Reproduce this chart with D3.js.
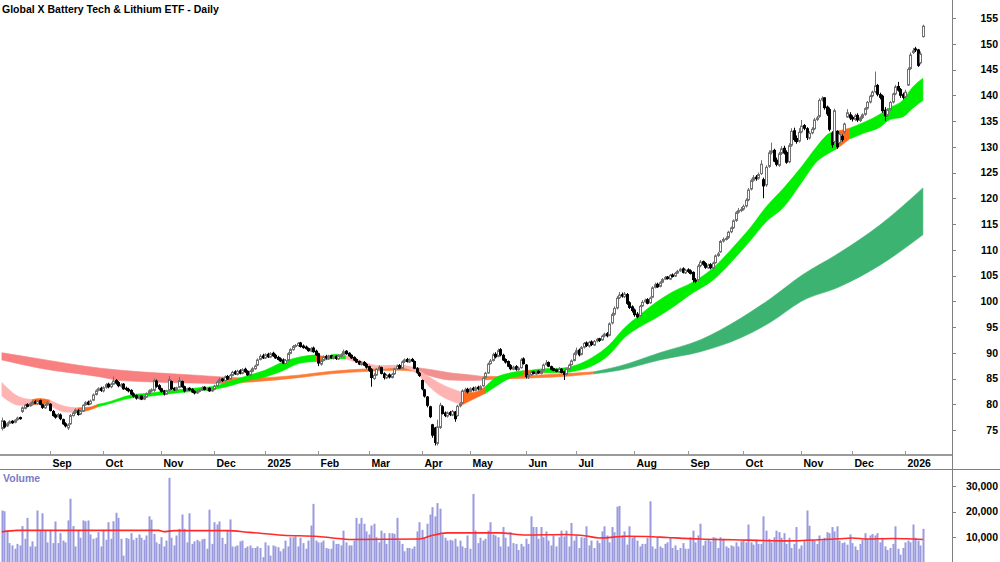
<!DOCTYPE html>
<html><head><meta charset="utf-8">
<script src="https://cdn.jsdelivr.net/npm/d3@7"></script>
<style>body{margin:0;background:#fff;} svg{display:block;font-family:"Liberation Sans",Arial,sans-serif;}</style>
</head><body><svg id="c" width="1000" height="562"></svg>
<script>
const title = "Global X Battery Tech & Lithium ETF - Daily";
const startDate = "2024-08-06";
const holidays = ["2024-12-25","2024-12-26","2025-01-01","2025-01-27","2025-04-18","2025-04-21","2025-04-25","2025-06-09","2025-12-25","2025-12-26","2026-01-01"];

const opens = [
75.3,76.6,75.8,76.3,76.7,76.5,77.0,77.4,78.6,79.2,79.9,79.7,80.0,80.5,80.1,80.7,79.9,79.3,79.9,
80.0,78.6,77.9,77.6,77.9,77.0,76.2,75.4,76.2,77.8,78.4,78.7,78.1,78.7,79.9,80.4,80.1,80.8,81.9,82.7,83.1,
82.6,83.3,83.9,83.4,83.9,84.6,84.2,83.5,83.9,83.1,82.9,82.7,82.0,81.7,81.1,81.6,81.0,81.4,82.1,82.6,82.7,84.5,83.6,
83.0,82.6,82.0,82.7,84.4,83.1,82.8,83.3,84.4,83.4,82.7,83.1,82.9,82.5,82.2,82.5,82.8,83.3,82.8,83.1,82.6,
82.9,83.6,84.3,84.9,84.6,85.4,84.9,85.6,86.3,85.8,86.5,86.0,86.8,86.4,85.6,86.4,86.9,87.6,88.7,89.4,
89.0,89.7,89.2,89.9,89.5,89.1,88.8,88.6,87.9,88.5,89.9,90.6,91.3,91.4,91.9,91.3,91.1,90.8,90.3,90.9,90.3,
89.8,87.8,88.5,89.3,88.9,89.4,88.9,89.3,88.8,89.3,89.7,90.3,89.9,89.5,89.1,88.7,88.3,87.7,88.1,87.7,
87.3,86.7,85.0,85.7,86.8,87.1,85.9,85.1,85.7,85.2,85.9,86.9,87.5,87.0,88.3,88.7,88.2,88.7,88.3,86.9,86.0,
84.6,82.8,81.4,79.5,76.0,75.4,72.4,75.5,79.5,78.3,77.7,78.4,77.9,78.5,77.8,79.7,80.3,82.5,82.9,
82.5,83.1,82.7,83.3,82.9,83.6,85.2,86.1,87.9,88.5,89.7,89.3,90.6,89.5,88.7,88.3,87.5,86.8,87.3,86.7,87.1,88.8,
87.6,85.3,85.7,86.3,85.9,86.4,86.0,86.6,87.7,88.1,87.3,86.9,86.7,86.3,86.8,86.3,85.8,86.9,87.7,88.5,
89.9,90.5,89.7,91.1,91.9,91.3,92.1,91.5,92.3,92.7,92.5,93.3,93.7,93.4,95.8,97.5,98.7,100.7,101.3,100.9,101.3,99.7,98.9,
98.3,97.5,97.2,99.1,99.9,100.3,99.7,100.8,102.7,103.3,102.9,103.7,104.3,104.7,104.3,105.1,104.9,105.5,105.9,106.3,105.5,
106.1,105.9,105.6,104.1,104.2,106.9,107.7,107.3,106.5,107.1,106.4,107.5,108.9,109.6,111.7,112.1,112.4,113.5,114.3,115.7,117.3,117.7,
117.9,118.5,119.7,121.8,123.5,124.1,123.9,124.8,123.6,122.6,126.2,128.9,129.3,127.4,126.4,128.7,129.7,128.9,127.1,130.3,133.1,131.6,131.1,
132.9,134.1,133.5,131.7,132.7,133.5,135.3,135.9,139.1,139.5,137.7,137.2,132.6,131.0,133.0,130.8,132.0,132.8,135.8,136.2,
135.7,135.3,136.1,135.1,135.7,136.3,137.5,138.7,139.9,140.7,141.9,140.1,139.8,137.1,136.1,137.3,138.7,140.3,141.7,141.1,140.1,
139.7,142.0,145.2,148.3,149.0,148.8,146.3,151.4];
const highs = [
77.4,76.9,76.5,76.9,76.9,77.1,77.6,77.6,79.6,80.1,80.2,80.4,80.7,80.8,80.9,80.9,80.1,80.1,80.6,
80.2,78.9,78.2,78.3,78.2,77.2,76.5,76.3,78.1,78.6,79.2,79.0,78.9,80.0,80.6,80.7,80.9,82.1,82.9,83.3,83.4,
83.5,84.1,84.2,84.2,85.4,84.9,84.5,84.1,84.1,83.4,83.2,82.9,82.3,81.9,81.8,81.8,81.7,82.3,82.9,83.1,85.0,84.8,83.9,
83.2,82.8,82.8,85.5,84.6,83.3,83.4,85.3,84.6,83.6,83.2,83.3,83.1,82.7,82.7,83.0,83.5,83.5,83.2,83.3,83.0,
83.8,84.6,85.2,85.1,85.6,85.7,85.9,86.5,86.6,86.7,86.8,87.0,87.1,86.6,86.7,87.2,87.7,88.9,89.7,89.8,
89.9,90.0,90.1,90.2,89.8,89.4,89.1,88.9,88.8,90.1,90.9,91.5,91.7,92.1,92.1,91.6,91.4,91.0,91.1,91.2,90.6,
90.0,88.7,89.5,89.6,89.6,89.6,89.5,89.5,89.7,89.9,90.6,90.5,90.1,89.7,89.3,88.9,88.5,88.3,88.4,88.0,
87.5,87.0,86.0,87.0,87.6,87.3,86.2,85.9,86.0,86.1,87.1,87.7,87.8,88.5,88.9,89.0,88.9,89.0,88.5,87.2,86.3,
84.8,83.0,81.6,79.7,76.2,75.6,77.0,80.3,79.8,78.6,78.6,78.7,78.9,78.7,79.9,80.4,82.9,83.2,83.2,
83.3,83.4,83.5,83.6,83.7,85.3,86.3,88.1,88.8,90.0,90.1,90.8,90.9,89.8,88.9,88.5,87.8,87.5,87.6,87.3,89.0,89.1,
87.8,85.9,86.4,86.5,86.5,86.6,86.8,87.9,88.6,88.3,87.5,87.1,86.9,87.2,87.0,86.5,87.1,87.9,88.7,90.1,
91.0,90.8,91.3,92.1,92.2,92.3,92.4,92.5,92.9,92.9,93.5,93.9,94.0,95.9,97.8,99.0,101.0,101.8,101.7,101.8,101.6,100.0,99.2,
98.6,97.9,99.3,100.2,100.5,100.6,100.9,102.9,103.6,103.6,103.9,104.5,104.9,104.9,105.3,105.4,105.7,106.1,106.5,106.6,106.3,
106.4,106.2,105.8,104.5,107.2,108.0,107.9,107.6,107.3,107.4,107.7,109.1,109.6,111.9,112.4,112.6,113.7,114.5,115.9,117.5,118.1,118.3,
118.8,120.0,122.0,123.8,124.5,124.5,125.0,127.4,124.0,126.4,129.3,130.8,129.6,127.9,129.0,130.1,130.2,129.3,130.7,133.6,133.7,132.2,133.6,
135.2,134.4,133.8,133.0,133.8,135.6,136.0,139.4,139.8,139.6,138.0,137.6,133.0,137.4,133.2,132.8,132.4,134.7,137.3,136.7,
136.1,136.4,136.5,135.9,136.5,137.7,138.9,140.1,140.9,144.6,142.2,140.5,140.1,137.7,137.5,138.9,140.5,142.0,142.6,141.4,140.5,
141.1,145.4,148.3,149.2,149.4,149.0,148.5,153.7];
const lows = [
74.9,75.3,75.6,76.1,76.2,76.3,76.8,77.0,78.3,79.0,79.4,79.5,79.8,80.0,79.9,79.8,79.1,79.1,79.7,
78.6,77.6,77.2,77.4,76.9,76.0,75.5,75.0,76.0,77.6,78.1,77.8,77.9,78.5,79.7,79.8,79.9,80.6,81.7,82.5,82.4,
82.3,83.0,83.1,83.1,83.7,83.8,83.3,83.2,82.8,82.6,82.3,81.8,81.3,80.9,80.9,80.8,80.8,81.2,81.9,82.3,82.4,83.2,82.7,
82.2,81.7,81.8,82.5,82.8,82.6,82.6,83.1,83.2,82.3,82.5,82.6,82.2,81.9,82.0,82.3,82.6,82.7,82.6,82.4,82.4,
82.7,83.4,84.1,84.3,84.4,84.7,84.7,85.4,85.7,85.6,85.8,85.8,86.1,85.5,85.4,86.2,86.7,87.4,88.5,88.8,
88.8,89.0,89.0,89.2,88.8,88.5,88.2,87.8,87.7,88.3,89.7,90.4,91.0,91.2,91.0,90.8,90.6,90.2,90.1,90.0,89.4,
87.4,87.5,88.3,88.7,88.6,88.8,88.7,88.6,88.6,89.1,89.5,89.6,89.2,88.8,88.4,88.0,87.6,87.5,87.4,86.9,
86.3,83.4,84.7,85.5,86.6,85.8,84.8,84.9,85.0,85.0,85.7,86.7,86.8,86.8,88.0,88.1,88.0,88.2,86.8,85.9,85.3,
82.7,81.3,79.4,77.3,73.5,72.0,72.0,75.2,78.0,77.5,77.4,77.7,77.7,76.6,77.6,79.4,80.1,82.2,82.1,
82.3,82.5,82.5,82.7,82.7,83.4,85.0,85.9,87.7,88.3,88.9,89.1,89.3,88.4,87.9,87.2,86.6,86.6,86.5,86.5,86.9,87.7,
85.0,84.9,85.5,85.8,85.7,85.9,85.8,86.4,87.5,87.2,86.6,86.4,86.2,86.1,86.0,84.7,85.6,86.7,87.5,88.3,
89.5,89.3,89.5,90.8,91.1,91.0,91.3,91.3,92.0,92.1,92.3,93.0,93.0,93.2,95.5,97.2,98.4,100.4,100.7,100.6,99.3,98.5,97.8,
97.0,96.7,97.0,98.9,99.7,99.4,99.5,100.6,102.5,102.6,102.7,103.5,104.1,104.2,104.1,104.6,104.7,105.3,105.7,105.4,105.3,
105.5,105.2,103.6,103.5,103.9,106.6,106.9,106.3,106.3,106.2,106.2,107.3,108.6,109.4,111.4,111.8,112.1,113.2,114.0,115.4,117.0,117.3,
117.6,118.2,119.4,121.5,123.2,123.4,123.6,124.5,120.0,122.2,125.9,128.5,127.0,126.2,126.1,128.4,128.5,126.7,126.8,130.0,131.0,130.6,130.8,
132.6,133.2,131.3,131.4,132.4,133.2,135.0,135.6,138.8,137.2,136.0,133.0,129.8,130.7,129.6,130.6,131.0,132.5,135.6,135.2,
134.9,135.0,134.8,134.8,135.4,136.0,137.2,138.4,139.6,140.4,139.8,139.2,136.6,135.0,135.8,137.0,138.4,140.0,140.7,139.5,139.2,
139.3,141.8,144.9,148.0,148.4,145.5,146.0,151.2];
const closes = [
76.8,75.6,76.2,76.6,76.4,76.9,77.3,77.2,79.3,79.8,79.6,80.1,80.4,80.2,80.6,80.0,79.4,79.8,80.3,
78.8,77.8,77.5,78.0,77.2,76.2,75.8,76.0,77.8,78.3,78.9,78.0,78.6,79.8,80.3,80.0,80.6,81.8,82.6,83.0,82.7,
83.2,83.8,83.4,83.9,84.5,84.1,83.6,83.8,83.0,82.9,82.6,82.0,81.6,81.2,81.5,81.0,81.4,82.0,82.6,82.8,84.6,83.5,83.0,
82.5,82.0,82.6,84.8,83.0,82.8,83.2,84.6,83.4,82.6,83.0,82.8,82.4,82.2,82.5,82.8,83.2,82.9,83.0,82.6,82.8,
83.5,84.3,84.8,84.6,85.3,84.9,85.6,86.2,85.9,86.4,86.0,86.7,86.3,85.7,86.4,86.9,87.4,88.6,89.3,89.0,
89.6,89.2,89.8,89.4,89.0,88.7,88.4,88.0,88.5,89.8,90.6,91.2,91.4,91.8,91.2,91.0,90.8,90.4,90.8,90.2,89.6,
88.0,88.4,89.2,89.0,89.3,89.0,89.2,88.9,89.4,89.6,90.2,89.8,89.4,89.0,88.6,88.2,87.8,88.0,87.6,87.2,
86.6,85.2,85.6,86.8,87.2,86.0,85.2,85.6,85.3,85.8,86.8,87.4,87.0,88.2,88.6,88.3,88.6,88.4,87.0,86.2,85.6,
83.0,81.6,79.8,77.6,74.0,72.6,75.6,79.8,78.2,77.8,78.3,78.0,78.6,77.2,79.6,80.1,82.6,82.8,82.4,
83.0,82.8,83.2,83.0,83.4,85.0,86.0,87.8,88.4,89.6,89.2,90.4,89.6,88.6,88.2,87.4,86.9,87.2,86.8,87.0,88.6,87.9,
85.4,85.6,86.2,86.0,86.3,86.1,86.5,87.6,88.0,87.4,86.8,86.6,86.4,86.9,86.2,85.8,86.8,87.6,88.4,89.8,
90.4,89.6,91.0,91.8,91.4,92.0,91.6,92.2,92.6,92.4,93.2,93.6,93.3,95.6,97.4,98.6,100.6,101.2,101.0,101.4,99.6,98.8,98.2,
97.4,97.0,99.0,99.8,100.2,99.6,100.6,102.6,103.2,102.8,103.6,104.2,104.6,104.4,105.0,104.8,105.4,105.8,106.2,105.6,106.0,
105.8,105.4,104.2,104.0,106.8,107.6,107.2,106.6,107.0,106.5,107.4,108.8,109.2,111.6,112.0,112.2,113.4,114.2,115.6,117.2,117.6,117.8,
118.4,119.6,121.6,123.4,124.0,123.8,124.6,126.6,122.4,126.0,128.8,129.2,127.2,126.6,128.6,129.6,128.8,127.0,130.2,133.0,131.4,131.0,132.8,
134.0,133.6,131.8,132.6,133.4,135.2,135.6,139.0,139.4,137.6,136.4,133.4,130.4,137.0,130.0,132.4,131.4,134.4,136.6,135.6,
135.4,136.0,135.2,135.6,136.2,137.4,138.6,139.8,140.6,141.8,140.2,139.6,137.0,136.0,137.2,138.6,140.2,141.6,141.0,140.0,139.6,
140.6,145.0,147.8,148.6,148.8,145.8,148.0,153.4];
const volumes = [
20400,20100,12500,7600,6700,5400,7300,6700,14300,9300,17500,6300,8300,6300,20400,12800,19300,12500,7900,
12800,7600,16100,7600,11500,8600,7900,16500,25000,14300,6300,12800,9700,16500,16200,16500,11000,9300,9700,11900,6300,
12800,8900,15800,9300,16200,19500,17500,9300,2700,9600,9300,11500,8900,9700,11000,9700,8900,10600,18100,16800,11200,7900,7300,
9900,6300,8600,33200,9700,6700,10600,13200,18800,13200,7900,19300,7300,8300,8900,8300,9100,9300,5400,20700,7300,
15800,14900,16100,9700,7300,12800,16900,6300,6300,6700,8300,8600,5700,6300,6700,5700,5700,6300,5700,2100,
7900,6700,2700,6700,6300,6000,4400,5400,8600,6300,9900,9900,10200,6300,9700,7600,5400,8600,14500,23000,8600,
7900,7900,8600,5700,5400,5400,8600,7300,7300,6700,12500,7900,6700,6700,8600,17500,15200,17500,15200,12200,
11000,14500,15200,9900,7900,12500,11500,7300,11500,11500,11200,17500,8600,7300,4400,5700,5700,5400,6300,12200,15800,
12800,9700,15200,18800,21700,18100,23300,21100,11000,9700,8600,8900,8600,9300,6300,8600,6300,5700,10600,
5400,26900,12500,7600,9700,8600,9300,12500,15800,11000,10600,9900,6300,13900,9700,6300,11900,7600,7300,4900,7300,6300,
9300,7300,18100,13900,13900,9300,13900,9900,12200,8600,6700,10600,6300,9900,12500,10200,12500,6300,15500,8600,
10600,5700,9900,9700,14200,6700,8600,5700,8600,7600,12200,14200,10600,7900,13900,11900,21900,22200,10600,12200,7000,14200,9700,
10200,8600,6300,7300,7300,9700,24000,6300,5400,9900,6300,5700,7300,7900,9700,5700,6700,4900,5700,7600,5400,
5400,9900,12500,7900,10600,15200,6700,8600,8900,8300,9900,9700,5700,9900,8900,6300,5700,6700,6300,7900,6300,8300,
8600,7900,14900,7900,7000,8900,7300,7300,18100,12500,9300,7900,9900,12500,11900,9700,11500,7300,9700,5700,7300,13900,5400,
6700,8600,20400,14400,8900,8600,7300,10600,8600,9700,11900,11500,13900,12200,14200,8600,7600,7900,7000,11000,
7600,6300,4900,7300,8900,11500,9300,10600,11200,10600,11500,7900,9700,6300,4900,5700,7300,14200,5400,3100,5700,
7900,8600,7900,14900,9700,8600,6700,13200];

const priceTicks = [75,80,85,90,95,100,105,110,115,120,125,130,135,140,145,150,155];
const volumeTicks = [10000,20000,30000];

// short-term ribbon samples (trading-day index, upper, lower, trend P=down/pink, O=flat/orange, G=up/green)
const shortIdx = [0,7,12,15,19,25,30,34,38,41,51,59,69,78,84,91,98,104,110,118,124,128,132,136,141,149,157,163,169,173,179,182,186,191,195,201,206,209,214,221,227,233,240,246,252,258,265,273,281,289,296,302,309,316,322,327,330,335,341,347,351,356,360,364];
const shortUpper = [84.2,81.4,80.9,81.1,80.8,79.6,79.3,79.4,80.0,80.3,81.8,82.2,82.8,83.2,83.5,84.6,85.7,86.6,88.0,89.2,89.6,89.2,89.7,89.4,88.6,87.5,87.6,87.0,85.3,84.1,82.8,82.3,82.3,83.4,85.1,86.1,86.5,86.6,86.9,87.0,87.6,89.0,91.5,94.8,97.3,99.6,101.8,103.7,106.4,110.5,114.4,118.3,122.0,126.1,130.0,132.6,133.0,133.6,134.8,136.3,137.6,139.0,141.6,143.3];
const shortLower = [81.6,79.8,79.8,80.1,79.8,78.5,78.4,78.8,79.5,79.9,81.2,81.6,82.2,82.6,82.9,83.7,84.7,85.3,86.3,88.0,88.3,88.6,88.9,88.8,88.0,86.9,87.2,86.3,83.4,81.8,80.4,79.9,80.9,82.1,83.4,85.1,85.6,85.8,86.1,86.1,86.5,87.4,89.6,92.9,95.0,96.6,98.8,101.6,104.1,108.0,111.9,115.4,118.3,123.0,127.1,128.8,129.6,131.5,132.7,133.8,135.3,135.8,137.5,139.0];
const shortTrend = "PPOOPPOOGGGGGGGGGGGGOGGPPPPPPPPOOGGGOGGGGGGGGGGGGGGGGGGGOGGGGGGG".split("");

// long-term ribbon samples (R=down/red, P=down/pink, O=flat/orange, G=up/green)
const longIdx = [0,15,39,47,78,87,98,118,130,145,157,163,170,177,187,190,197,209,225,234,244,260,276,292,304,316,331,347,364];
const longUpper = [90.0,88.8,87.0,86.6,85.6,85.3,85.1,85.7,86.4,86.9,87.2,87.2,86.7,86.1,85.6,85.4,85.4,85.6,86.0,86.3,87.4,90.0,92.5,96.7,100.6,105.0,109.4,114.8,122.0];
const longLower = [88.6,87.0,85.3,84.6,84.1,84.0,84.3,85.2,85.9,86.4,86.6,86.4,85.4,84.7,84.6,84.7,84.9,85.1,85.5,85.9,86.6,88.6,90.2,92.9,96.0,100.0,102.8,107.0,112.9];
const longTrend = "RRRRROOOOOOPPPPOOOOGGGGGGGGGG".split("");

// volume moving average samples
const volMaIdx = [0,6,30,62,64,68,89,98,111,125,135,138,165,170,176,197,207,223,231,236,247,255,263,276,289,310,323,331,336,342,352,364];
const volMaVals = [12000,12600,12600,12600,12100,12500,12500,11800,10700,10200,9200,9000,9200,10600,11600,11600,10800,11000,10400,9600,10300,10200,9800,9200,8900,8500,8900,9300,9600,9200,9400,9000];

const shortPalette = {P:"#ffb4b4", O:"#ff6a1f", G:"#00ee00"};
const longPalette = {R:"#f98080", P:"#f29090", O:"#ff7a35", G:"#3cb371"};

// ---------------------------------------------------------------
const N = Math.min(opens.length, highs.length, lows.length, closes.length);
const hol = new Set(holidays);
const dates = [];
{
  const d = new Date(startDate + "T00:00:00Z");
  while (dates.length < N) {
    const wd = d.getUTCDay();
    const iso = d.toISOString().slice(0, 10);
    if (wd !== 0 && wd !== 6 && !hol.has(iso)) dates.push(new Date(d));
    d.setUTCDate(d.getUTCDate() + 1);
  }
}

const svg = d3.select("#c");
const axisX = 952;
const x = d3.scaleLinear().domain([-0.75, 375.5]).range([0, axisX]);
const y = d3.scaleLinear().domain([75, 155]).range([430, 18]);
const yv = d3.scaleLinear().domain([0, 30000]).range([562.5, 486]);

// bands
function drawBand(g, idx, up, lo, trend, palette) {
  const pts = idx.map((i, k) => ({i, u: up[k], l: lo[k], c: trend[k]}));
  const area = d3.area().x(p => x(p.i)).y0(p => y(p.l)).y1(p => y(p.u)).curve(d3.curveMonotoneX);
  let start = 0;
  for (let k = 1; k < pts.length; k++) {
    if (k === pts.length - 1 || pts[k].c !== pts[start].c) {
      const seg = pts.slice(start, k + 1);
      const col = palette[pts[start].c];
      g.append("path").attr("d", area(seg)).attr("fill", col).attr("stroke", col).attr("stroke-width", 0.6);
      start = k;
    }
  }
}
const gBands = svg.append("g");
drawBand(gBands, longIdx, longUpper, longLower, longTrend, longPalette);
drawBand(gBands, shortIdx, shortUpper, shortLower, shortTrend, shortPalette);

// candles
const gC = svg.append("g");
const idxs = d3.range(N);
gC.selectAll("line.w").data(idxs).join("line")
  .attr("x1", i => Math.round(x(i)) + 0.5).attr("x2", i => Math.round(x(i)) + 0.5)
  .attr("y1", i => y(Math.max(highs[i], opens[i], closes[i])))
  .attr("y2", i => y(Math.min(lows[i], opens[i], closes[i])))
  .attr("stroke", i => closes[i] >= opens[i] ? "#707070" : "#000")
  .attr("stroke-width", 1);
gC.selectAll("rect.b").data(idxs).join("rect")
  .attr("x", i => Math.round(x(i)) - 0.5)
  .attr("width", 2)
  .attr("y", i => y(Math.max(opens[i], closes[i])))
  .attr("height", i => Math.max(1, Math.abs(y(opens[i]) - y(closes[i]))))
  .attr("fill", i => closes[i] >= opens[i] ? "#fff" : "#000")
  .attr("stroke", i => closes[i] >= opens[i] ? "#707070" : "#000")
  .attr("stroke-width", 1);

// volume bars
const gV = svg.append("g");
gV.selectAll("rect").data(idxs).join("rect")
  .attr("x", i => Math.round(x(i)) - 0.5)
  .attr("width", 2)
  .attr("y", i => yv(volumes[i]))
  .attr("height", i => yv(0) - yv(volumes[i]))
  .attr("fill", "#9a9ade");
gV.append("path")
  .attr("d", d3.line().x((v, k) => x(volMaIdx[k])).y(v => yv(v)).curve(d3.curveMonotoneX)(volMaVals))
  .attr("fill", "none").attr("stroke", "#ff2a2a").attr("stroke-width", 1.6);

// frame lines
svg.append("line").attr("x1", axisX + 0.5).attr("x2", axisX + 0.5).attr("y1", 0).attr("y2", 562).attr("stroke", "#808080");
svg.append("line").attr("x1", 0).attr("x2", axisX).attr("y1", 455).attr("y2", 455).attr("stroke", "#9a9a9a").attr("stroke-width", 2);
svg.append("line").attr("x1", 0).attr("x2", 1000).attr("y1", 469.5).attr("y2", 469.5).attr("stroke", "#808080");

// price axis
const gP = svg.append("g");
priceTicks.forEach(t => {
  gP.append("line").attr("x1", axisX).attr("x2", axisX + 4).attr("y1", Math.round(y(t)) + 0.5).attr("y2", Math.round(y(t)) + 0.5).attr("stroke", "#808080");
  gP.append("text").attr("x", 998).attr("y", y(t)).attr("dy", "0.36em").attr("text-anchor", "end")
    .attr("font-size", 10.5).attr("font-weight", "bold").text(t);
});
// volume axis
const fmt = d3.format(",");
volumeTicks.forEach(t => {
  gP.append("line").attr("x1", axisX).attr("x2", axisX + 4).attr("y1", Math.round(yv(t)) + 0.5).attr("y2", Math.round(yv(t)) + 0.5).attr("stroke", "#808080");
  gP.append("text").attr("x", 998).attr("y", yv(t)).attr("dy", "0.36em").attr("text-anchor", "end")
    .attr("font-size", 10.5).attr("font-weight", "bold").text(fmt(t));
});

// month ticks
const gM = svg.append("g");
dates.forEach((d, i) => {
  if (i === 0) return;
  if (d.getUTCMonth() !== dates[i - 1].getUTCMonth()) {
    const xx = Math.round(x(i)) + 0.5;
    const label = d.getUTCMonth() === 0 ? String(d.getUTCFullYear()) : d3.utcFormat("%b")(d);
    gM.append("line").attr("x1", xx).attr("x2", xx).attr("y1", 451).attr("y2", 455).attr("stroke", "#9a9a9a");
    gM.append("text").attr("x", xx + 2).attr("y", 467).attr("font-size", 10.5).attr("font-weight", "bold").text(label);
  }
});

// titles
svg.append("text").attr("x", 2).attr("y", 13).attr("font-size", 10.5).attr("font-weight", "bold").text(title);
svg.append("text").attr("x", 3).attr("y", 482).attr("font-size", 10.5).attr("font-weight", "bold").attr("fill", "#7b7bc6").text("Volume");
</script></body></html>
